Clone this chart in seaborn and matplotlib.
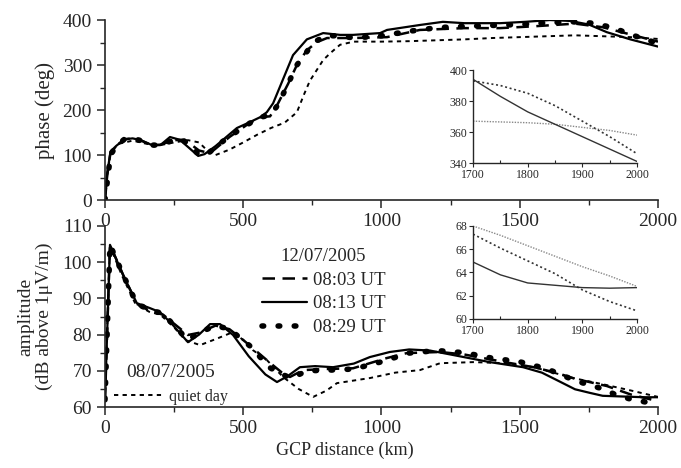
import numpy as np
import pandas as pd
import matplotlib
matplotlib.use("Agg")
import matplotlib.pyplot as plt
from matplotlib.lines import Line2D
from matplotlib.ticker import MultipleLocator
import seaborn as sns

# --- phase (deg), top panel ---
ph_solid_x = [0, 8, 20, 40, 70, 100, 130, 170, 200, 235, 270, 300, 337, 360, 400, 477, 520, 561, 585, 608, 645,
              680, 730, 789, 850, 897, 995, 1020, 1139, 1222, 1300, 1429, 1520, 1609, 1682, 1750, 1815, 1900, 2000]
ph_solid_y = [0, 60, 108, 120, 135, 137, 133, 122, 122, 140, 134, 118, 98, 102, 120, 160, 172, 184, 195, 215, 270,
              322, 357, 371, 367, 367, 371, 378, 389, 396, 393, 393, 396, 400, 398, 390, 373, 357, 341]

ph_dash_x = [0, 8, 20, 40, 70, 100, 130, 170, 200, 250, 280, 310, 340, 380, 450, 513, 560, 597, 626, 662, 694,
             730, 767, 803, 900, 1020, 1139, 1300, 1429, 1550, 1650, 1700, 1800, 1900, 2000]
ph_dash_y = [0, 55, 106, 120, 135, 137, 132, 122, 123, 133, 134, 124, 110, 104, 140, 167, 184, 186, 215, 258, 300,
             333, 351, 360, 360, 362, 378, 382, 382, 386, 390, 392, 384, 368, 352]

ph_dots_x = [0, 10, 20, 40, 70, 100, 130, 170, 200, 250, 280, 310, 340, 370, 416, 488, 553, 600, 626, 662, 694,
             756, 800, 850, 900, 1000, 1100, 1200, 1300, 1400, 1500, 1600, 1693, 1765, 1837, 1910, 2000]
ph_dots_y = [0, 50, 100, 120, 135, 137, 132, 122, 122, 134, 134, 120, 100, 102, 126, 157, 182, 190, 212, 258, 300,
             351, 365, 365, 360, 365, 375, 383, 386, 388, 390, 394, 396, 393, 383, 366, 348]

ph_quiet_x = [0, 8, 20, 50, 100, 150, 200, 250, 300, 340, 370, 400, 450, 500, 550, 600, 650, 694, 720, 741,
              789, 814, 850, 900, 1000, 1100, 1200, 1300, 1400, 1500, 1600, 1700, 1800, 1900, 2000]
ph_quiet_y = [0, 55, 105, 125, 132, 125, 122, 128, 133, 128, 110, 100, 112, 128, 145, 160, 172, 195, 235, 265,
              311, 326, 345, 352, 352, 353, 355, 357, 360, 362, 364, 366, 364, 362, 358]

# --- amplitude (dB above 1 uV/m), bottom panel ---
am_solid_x = [0, 18, 66, 115, 163, 199, 246, 300, 340, 380, 416, 463, 520, 580, 622, 660, 705, 760, 825, 900,
              958, 1030, 1100, 1175, 1250, 1392, 1512, 1580, 1635, 1700, 1754, 1800, 1874, 1950, 2000]
am_solid_y = [62, 104.8, 96.4, 88.7, 87.3, 86.2, 82.6, 77.9, 80.0, 82.9, 82.9, 79.9, 74.0, 69.0, 66.9, 68.5, 71.0,
              71.3, 71.0, 72.0, 73.8, 75.2, 75.9, 75.6, 74.5, 72.4, 71.0, 69.5, 67.4, 64.9, 63.9, 63.1, 62.9, 62.7, 62.7]

am_dash_x = [0, 18, 66, 115, 163, 210, 250, 300, 340, 400, 450, 500, 543, 600, 640, 669, 717, 800, 897, 1018,
             1092, 1212, 1300, 1453, 1550, 1635, 1700, 1815, 1900, 2000]
am_dash_y = [62, 104.8, 96.4, 88.5, 86.5, 85.5, 83.0, 79.9, 80.5, 82.5, 81.5, 78.5, 75.7, 72.0, 69.5, 68.3, 70.2,
             70.5, 70.7, 73.5, 74.9, 75.2, 74.5, 72.3, 71.0, 69.4, 67.8, 65.8, 63.5, 61.6]

am_dots_x = [0, 18, 66, 115, 163, 210, 250, 300, 340, 400, 450, 530, 593, 640, 675, 730, 815, 900, 1000, 1100,
             1200, 1300, 1400, 1500, 1600, 1700, 1800, 1850, 1900, 2000]
am_dots_y = [62, 104.8, 96.4, 88.5, 86.8, 85.8, 82.5, 78.5, 80.5, 82.5, 81.5, 76.5, 71.0, 69.0, 68.0, 70.0, 70.2,
             70.5, 72.5, 74.9, 75.6, 75.0, 73.5, 72.5, 70.5, 67.3, 65.0, 63.3, 62.2, 60.7]

am_quiet_x = [0, 18, 60, 110, 160, 200, 250, 290, 344, 405, 463, 500, 535, 585, 644, 700, 753, 800, 839, 958,
              1050, 1139, 1212, 1331, 1453, 1550, 1693, 1800, 1900, 2000]
am_quiet_y = [64, 104.5, 96.5, 88.5, 86.3, 85.5, 82.0, 78.5, 77.1, 78.9, 80.7, 78.5, 75.7, 73.0, 68.3, 65.0,
              62.8, 64.5, 66.6, 68.0, 69.5, 70.2, 72.1, 72.4, 72.1, 71.0, 68.0, 66.3, 64.6, 62.8]

# --- insets (1700-2000 km) ---
in_x = [1700, 1750, 1800, 1850, 1900, 1950, 2000]
in_ph_solid = [394, 383, 373, 365, 357, 349, 341]
in_ph_dots = [393, 390, 385, 377, 367, 357, 346]
in_ph_quiet = [367, 366.5, 366, 365, 363, 361, 358]
in_am_solid = [64.9, 63.8, 63.1, 62.9, 62.7, 62.65, 62.7]
in_am_dots = [67.3, 66.1, 65.0, 63.9, 62.5, 61.5, 60.7]
in_am_quiet = [68.0, 67.2, 66.3, 65.4, 64.5, 63.7, 62.8]

sns.set_style("ticks")
plt.rcParams['font.family'] = ['Liberation Serif', 'DejaVu Serif']

fig = plt.figure(figsize=(6.81, 4.68), dpi=100)
ax1 = fig.add_axes([0.1542, 0.5726, 0.812, 0.3846])
ax2 = fig.add_axes([0.1542, 0.1303, 0.812, 0.3868])

DASH = dict(color='black', linewidth=1.8, linestyle=(0, (5, 3)))
SOLID = dict(color='black', linewidth=1.6, linestyle='-')
DOTS = dict(color='black', linewidth=4.0, linestyle=(0, (0.3, 2.6)), dash_capstyle='round')
QUIET = dict(color='black', linewidth=1.4, linestyle=(0, (2.2, 2.2)))


def draw(ax, x, y, style):
    sns.lineplot(x=x, y=y, ax=ax, sort=False, estimator=None, **style)


for ax, series in [
    (ax1, [(ph_quiet_x, ph_quiet_y, QUIET), (ph_dash_x, ph_dash_y, DASH),
           (ph_dots_x, ph_dots_y, DOTS), (ph_solid_x, ph_solid_y, SOLID)]),
    (ax2, [(am_quiet_x, am_quiet_y, QUIET), (am_dash_x, am_dash_y, DASH),
           (am_dots_x, am_dots_y, DOTS), (am_solid_x, am_solid_y, SOLID)]),
]:
    for x, y, st in series:
        draw(ax, x, y, st)
    ax.set_xlim(0, 2000)
    ax.xaxis.set_major_locator(MultipleLocator(500))
    ax.xaxis.set_minor_locator(MultipleLocator(250))
    for s in ['top', 'right']:
        ax.spines[s].set_visible(False)
    for s in ['left', 'bottom']:
        ax.spines[s].set_linewidth(1.2)
    ax.tick_params(which='major', direction='out', length=6, width=1.1, labelsize=14)
    ax.tick_params(which='minor', direction='out', length=3.5, width=1.0)

ax1.set_ylim(0, 400)
ax1.yaxis.set_major_locator(MultipleLocator(100))
ax1.yaxis.set_minor_locator(MultipleLocator(50))
ax1.set_ylabel('phase (deg)', fontsize=15, labelpad=5)

ax2.set_ylim(60, 110)
ax2.yaxis.set_major_locator(MultipleLocator(10))
ax2.yaxis.set_minor_locator(MultipleLocator(5))
ax2.set_ylabel('amplitude\n(dB above 1\u03bcV/m)', fontsize=14, labelpad=7, linespacing=1.1)
ax2.set_xlabel('GCP distance (km)', fontsize=13)
ax2.xaxis.set_label_coords(0.434, -0.19)

# legends
h_dash = Line2D([], [], **DASH)
h_solid = Line2D([], [], **SOLID)
h_dots = Line2D([], [], **DOTS)
leg1 = ax2.legend([h_dash, h_solid, h_dots], ['08:03 UT', '08:13 UT', '08:29 UT'],
                  title='12/07/2005', fontsize=13.5, title_fontsize=13.5, frameon=False,
                  loc='upper left', bbox_to_anchor=(0.384, 0.470), bbox_transform=fig.transFigure,
                  handlelength=2.4, handletextpad=0.35, labelspacing=0.35, borderpad=0, borderaxespad=0)
ax2.add_artist(leg1)
h_quiet = Line2D([], [], **QUIET)
ax2.legend([h_quiet], ['quiet day'], title='08/07/2005', fontsize=11.5, title_fontsize=14,
           frameon=False, loc='upper left', bbox_to_anchor=(0.168, 0.222), bbox_transform=fig.transFigure,
           handlelength=3.1, handletextpad=0.3, borderpad=0, borderaxespad=0)

# insets
ins1 = fig.add_axes([0.6946, 0.6517, 0.2408, 0.1987])
ins2 = fig.add_axes([0.6946, 0.3184, 0.2408, 0.1987])
IN_SOLID = dict(color='#333333', linewidth=1.0, linestyle='-')
IN_DOTS = dict(color='#333333', linewidth=1.2, linestyle=(0, (1.2, 1.6)))
IN_QUIET = dict(color='#888888', linewidth=1.0, linestyle=(0, (1, 1)))
for ax, ys, lim, step in [(ins1, (in_ph_solid, in_ph_dots, in_ph_quiet), (340, 400), 20),
                          (ins2, (in_am_solid, in_am_dots, in_am_quiet), (60, 68), 2)]:
    draw(ax, in_x, ys[2], IN_QUIET)
    draw(ax, in_x, ys[1], IN_DOTS)
    draw(ax, in_x, ys[0], IN_SOLID)
    ax.set_xlim(1700, 2000)
    ax.set_ylim(*lim)
    ax.xaxis.set_major_locator(MultipleLocator(100))
    ax.xaxis.set_minor_locator(MultipleLocator(50))
    ax.yaxis.set_major_locator(MultipleLocator(step))
    for s in ['top', 'right']:
        ax.spines[s].set_visible(False)
    for s in ['left', 'bottom']:
        ax.spines[s].set_linewidth(1.0)
    ax.patch.set_alpha(0)
    ax.tick_params(which='major', direction='out', length=3, width=0.8, labelsize=8.5, pad=1)
    ax.tick_params(axis='x', which='minor', direction='in', length=2.5, width=0.8)

fig.savefig('out.png', dpi=100)
